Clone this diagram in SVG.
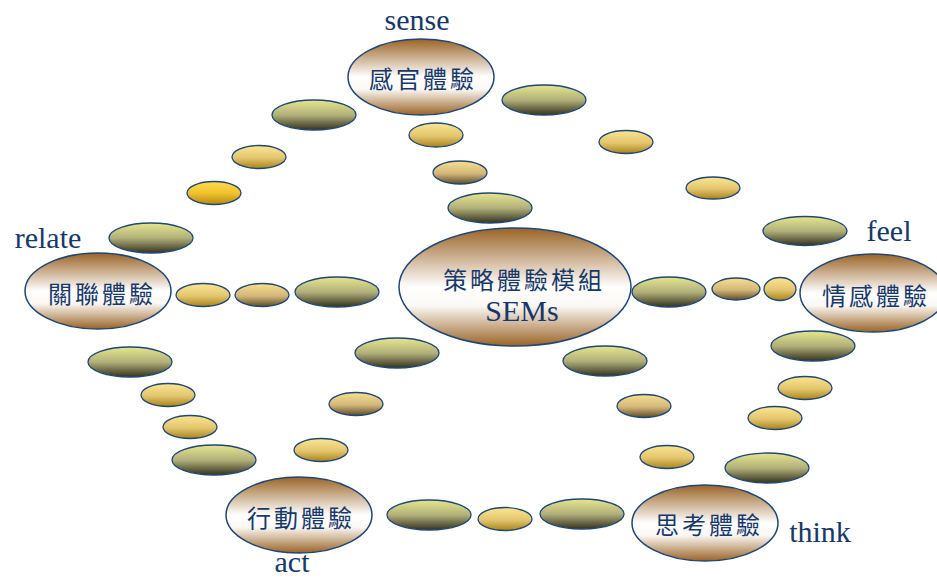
<svg xmlns="http://www.w3.org/2000/svg" width="937" height="580" viewBox="0 0 937 580">
  <defs>
    <!-- large experience nodes: brown rim fading to white -->
    <linearGradient id="gNode" x1="0" y1="0" x2="0" y2="1">
      <stop offset="0" stop-color="#9a6426"/>
      <stop offset="0.5" stop-color="#ffffff"/>
      <stop offset="0.66" stop-color="#fbf8f5"/>
      <stop offset="1" stop-color="#9a6426"/>
    </linearGradient>
    <!-- bead fills -->
    <linearGradient id="gOlive" x1="0" y1="0" x2="0" y2="1">
      <stop offset="0" stop-color="#e6e68e"/>
      <stop offset="0.5" stop-color="#b2b07a"/>
      <stop offset="1" stop-color="#34321f"/>
    </linearGradient>
    <linearGradient id="gGold" x1="0" y1="0" x2="0" y2="1">
      <stop offset="0" stop-color="#fce690"/>
      <stop offset="0.55" stop-color="#e2c46e"/>
      <stop offset="1" stop-color="#a98418"/>
    </linearGradient>
    <linearGradient id="gTan" x1="0" y1="0" x2="0" y2="1">
      <stop offset="0" stop-color="#f8e08e"/>
      <stop offset="0.55" stop-color="#d2b678"/>
      <stop offset="1" stop-color="#5e4c2a"/>
    </linearGradient>
    <linearGradient id="gBright" x1="0" y1="0" x2="0" y2="1">
      <stop offset="0" stop-color="#ffdc44"/>
      <stop offset="0.5" stop-color="#f0c232"/>
      <stop offset="1" stop-color="#b88a0c"/>
    </linearGradient>
  </defs>
  <style>
    .node { fill: url(#gNode); stroke: #1e4676; stroke-width: 1.5; }
    .olive { fill: url(#gOlive); stroke: #1e4676; stroke-width: 1.3; }
    .gold { fill: url(#gGold); stroke: #1e4676; stroke-width: 1.3; }
    .tan { fill: url(#gTan); stroke: #1e4676; stroke-width: 1.3; }
    .bright { fill: url(#gBright); stroke: #1e4676; stroke-width: 1.3; }
    .cjk { font-family: "Noto Sans CJK TC", "Noto Sans CJK SC", sans-serif; font-size: 24px; fill: #17386a; text-anchor: middle; letter-spacing: 3px; }
    .en { font-family: "Liberation Serif", serif; font-size: 30px; fill: #17386a; text-anchor: middle; }
  </style>
  <rect width="937" height="580" fill="#ffffff"/>

  <!-- bead chains linking the experience modules -->
  <g id="connectors">
    <g id="sense-relate">
      <ellipse class="olive" cx="314" cy="115" rx="42" ry="15"/>
      <ellipse class="gold" cx="259" cy="157" rx="27" ry="11.5"/>
      <ellipse class="bright" cx="214" cy="193" rx="27" ry="11.5"/>
      <ellipse class="olive" cx="151" cy="238" rx="42" ry="15"/>
    </g>
    <g id="relate-center">
      <ellipse class="gold" cx="203" cy="295" rx="27" ry="11.5"/>
      <ellipse class="tan" cx="262" cy="295" rx="27" ry="11.5"/>
      <ellipse class="olive" cx="337" cy="292" rx="42" ry="15"/>
    </g>
    <g id="sense-center">
      <ellipse class="gold" cx="436" cy="135" rx="27" ry="12"/>
      <ellipse class="tan" cx="460" cy="172.5" rx="27" ry="11.5"/>
      <ellipse class="olive" cx="490" cy="208" rx="42" ry="15"/>
    </g>
    <g id="sense-feel">
      <ellipse class="olive" cx="544" cy="100" rx="42" ry="15"/>
      <ellipse class="gold" cx="626" cy="142" rx="27" ry="11.5"/>
      <ellipse class="gold" cx="713" cy="188" rx="27" ry="11"/>
      <ellipse class="olive" cx="805" cy="231" rx="42" ry="14.5"/>
    </g>
    <g id="center-feel">
      <ellipse class="olive" cx="669" cy="292" rx="37" ry="15"/>
      <ellipse class="tan" cx="736" cy="289" rx="24" ry="11"/>
      <ellipse class="gold" cx="780" cy="289" rx="16" ry="11.5"/>
    </g>
    <g id="feel-think">
      <ellipse class="olive" cx="813" cy="346" rx="42" ry="15"/>
      <ellipse class="gold" cx="805" cy="388" rx="27" ry="11.5"/>
      <ellipse class="gold" cx="775" cy="418" rx="27" ry="11.5"/>
      <ellipse class="olive" cx="767" cy="468" rx="42" ry="15"/>
    </g>
    <g id="center-think">
      <ellipse class="olive" cx="605" cy="361" rx="42" ry="15"/>
      <ellipse class="tan" cx="644" cy="406" rx="27" ry="11.5"/>
      <ellipse class="gold" cx="667" cy="457" rx="27" ry="11.5"/>
    </g>
    <g id="think-act">
      <ellipse class="olive" cx="429" cy="515" rx="42" ry="15"/>
      <ellipse class="gold" cx="505" cy="519" rx="27" ry="11.5"/>
      <ellipse class="olive" cx="582" cy="514" rx="42" ry="15"/>
    </g>
    <g id="center-act">
      <ellipse class="olive" cx="397" cy="353" rx="42" ry="15"/>
      <ellipse class="tan" cx="356" cy="404" rx="27" ry="11.5"/>
      <ellipse class="gold" cx="321" cy="450" rx="27" ry="11.5"/>
    </g>
    <g id="relate-act">
      <ellipse class="olive" cx="130" cy="362" rx="42" ry="15"/>
      <ellipse class="gold" cx="168" cy="395" rx="27" ry="11.5"/>
      <ellipse class="gold" cx="190" cy="427" rx="27" ry="11.5"/>
      <ellipse class="olive" cx="214" cy="460" rx="42" ry="15"/>
    </g>
  </g>

  <!-- experience modules -->
  <g id="node-sense">
    <ellipse class="node" cx="421" cy="77" rx="73" ry="38"/>
    <text class="cjk" x="423" y="88">感官體驗</text>
    <text class="en" x="417" y="30">sense</text>
  </g>
  <g id="node-center">
    <ellipse class="node" cx="515" cy="287" rx="116" ry="59"/>
    <text class="cjk" x="524" y="289">策略體驗模組</text>
    <text class="en" x="522" y="321">SEMs</text>
  </g>
  <g id="node-relate">
    <ellipse class="node" cx="98" cy="291" rx="73" ry="38"/>
    <text class="cjk" x="102" y="303">關聯體驗</text>
    <text class="en" x="48" y="248">relate</text>
  </g>
  <g id="node-feel">
    <ellipse class="node" cx="873" cy="293" rx="73" ry="39"/>
    <text class="cjk" x="876" y="305">情感體驗</text>
    <text class="en" x="889" y="241">feel</text>
  </g>
  <g id="node-act">
    <ellipse class="node" cx="299" cy="515" rx="73" ry="38"/>
    <text class="cjk" x="301" y="527">行動體驗</text>
    <text class="en" x="292" y="572">act</text>
  </g>
  <g id="node-think">
    <ellipse class="node" cx="705" cy="523" rx="73" ry="38"/>
    <text class="cjk" x="709" y="534">思考體驗</text>
    <text class="en" x="820" y="542">think</text>
  </g>
</svg>
